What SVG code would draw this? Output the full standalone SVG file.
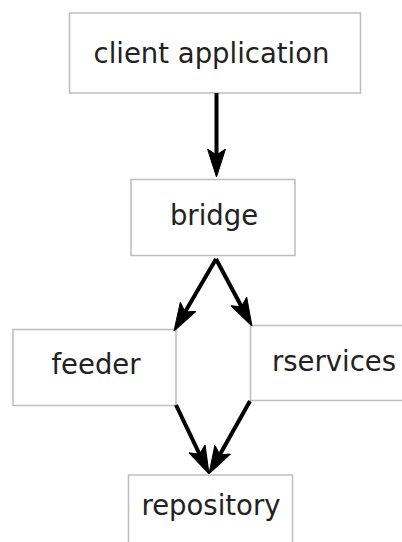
<svg xmlns="http://www.w3.org/2000/svg" width="402" height="542" viewBox="0 0 402 542">
<style>
.box{fill:#ffffff;stroke:#bdbdbd;stroke-width:1.5}
.lbl{font-family:"DejaVu Sans",sans-serif;font-size:27.5px;fill:#222222;text-anchor:middle}
.edge{stroke:#000000;stroke-width:4;fill:none;marker-end:url(#ah)}
</style>
<defs>
<marker id="ah" markerUnits="userSpaceOnUse" markerWidth="28" markerHeight="20" refX="20" refY="10" orient="auto" viewBox="0 0 28 20">
<path d="M28,10 L0,1 L6,10 L0,19 Z" fill="#000000" stroke="#000000" stroke-width="1" stroke-linejoin="round"/>
</marker>
</defs>
<rect width="402" height="542" fill="#ffffff"/>
<g id="client">
<rect class="box" x="69.5" y="13" width="291" height="80"/>
<text class="lbl" x="211.5" y="63">client application</text>
</g>
<g id="bridge">
<rect class="box" x="131" y="179.5" width="164" height="76"/>
<text class="lbl" x="214" y="225">bridge</text>
</g>
<g id="feeder">
<rect class="box" x="13" y="329.5" width="163" height="76"/>
<text class="lbl" x="96" y="374">feeder</text>
</g>
<g id="rservices">
<rect class="box" x="250.5" y="325.5" width="200" height="75"/>
<text class="lbl" x="334" y="371">rservices</text>
</g>
<g id="repository">
<rect class="box" x="128.5" y="475" width="164" height="100"/>
<text class="lbl" x="211" y="515">repository</text>
</g>
<g id="connectors">
<path class="edge" d="M216.5,93 L216.5,169"/>
<path class="edge" d="M216,259 L178,324.1"/>
<path class="edge" d="M216,259 L248.2,319"/>
<path class="edge" d="M176,405 L205.6,466.8"/>
<path class="edge" d="M250,401 L212.9,467"/>
</g>
</svg>
